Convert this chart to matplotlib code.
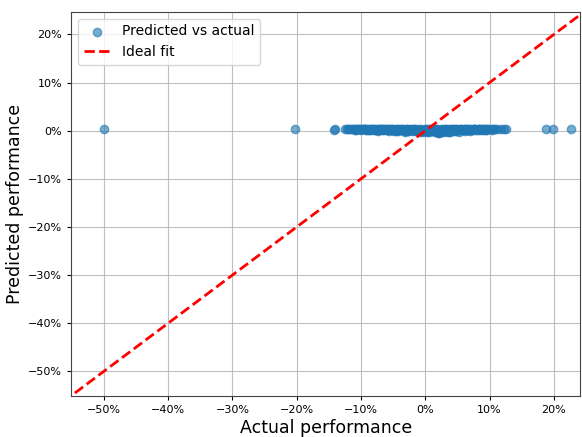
import matplotlib
matplotlib.use("Agg")
import matplotlib.pyplot as plt
from matplotlib.ticker import PercentFormatter

outlier_actual = [-0.500, -0.202, -0.142, -0.141, 0.187, 0.199, 0.227]
outlier_pred = [0.003, 0.003, 0.002, 0.004, 0.003, 0.003, 0.003]

cluster_actual = [
    -0.125, -0.122, -0.120, -0.117, -0.115, -0.112, -0.110, -0.108, -0.106, -0.104,
    -0.102, -0.100, -0.098, -0.096, -0.094, -0.092, -0.090, -0.088, -0.086, -0.084,
    -0.082, -0.080, -0.078, -0.076, -0.074, -0.072, -0.070, -0.068, -0.066, -0.064,
    -0.062, -0.060, -0.058, -0.056, -0.054, -0.052, -0.050, -0.048, -0.046, -0.044,
    -0.042, -0.040, -0.038, -0.036, -0.034, -0.032, -0.030, -0.028, -0.026, -0.024,
    -0.022, -0.020, -0.018, -0.016, -0.014, -0.012, -0.010, -0.008, -0.006, -0.004,
    -0.002, 0.000, 0.002, 0.004, 0.006, 0.008, 0.010, 0.012, 0.014, 0.016,
    0.018, 0.020, 0.022, 0.024, 0.026, 0.028, 0.030, 0.032, 0.034, 0.036,
    0.038, 0.040, 0.042, 0.044, 0.046, 0.048, 0.050, 0.052, 0.054, 0.056,
    0.058, 0.060, 0.062, 0.064, 0.066, 0.068, 0.070, 0.072, 0.074, 0.076,
    0.078, 0.080, 0.082, 0.084, 0.086, 0.088, 0.090, 0.092, 0.094, 0.096,
    0.098, 0.100, 0.103, 0.106, 0.109, 0.112, 0.118, 0.122, 0.125,
    -0.091, -0.073, -0.057, -0.043, -0.031, -0.019, -0.009, -0.003, 0.003, 0.009,
    0.015, 0.019, 0.021, 0.027, 0.033, 0.039, 0.045, 0.053, 0.061, 0.069,
    -0.081, -0.065, -0.049, -0.035, -0.025, -0.015, 0.005, 0.011, 0.025, 0.037,
    -0.107, -0.097, -0.087, -0.077, -0.067, -0.059, -0.051, -0.045, -0.039, -0.033,
    -0.027, -0.021, -0.013, -0.007, -0.001, 0.007, 0.013, 0.023, 0.029, 0.035,
    0.041, 0.047, 0.051, 0.057, 0.063, 0.071, 0.077, 0.083, 0.089, 0.095,
    -0.111, -0.101, -0.093, -0.083, -0.071, -0.061, -0.053, -0.041, -0.029, -0.017,
    0.001, 0.017, 0.031, 0.043, 0.055, 0.065, 0.075, 0.085, 0.093, 0.105,
]
cluster_pred = [
    0.003, 0.004, 0.003, 0.003, 0.004, 0.003, 0.002, 0.003, 0.004, 0.003,
    0.003, 0.002, 0.004, 0.003, 0.003, 0.001, 0.004, 0.003, 0.002, 0.003,
    0.004, 0.003, 0.001, 0.003, 0.004, 0.002, 0.003, 0.003, 0.001, 0.004,
    0.003, 0.002, 0.003, 0.004, 0.001, 0.003, 0.003, 0.002, 0.004, 0.003,
    0.001, 0.003, 0.002, 0.004, 0.003, 0.000, 0.003, 0.004, 0.002, 0.003,
    0.001, 0.003, 0.004, 0.002, 0.003, 0.000, 0.003, 0.001, 0.004, 0.002,
    -0.001, 0.003, 0.002, 0.004, 0.001, 0.003, 0.002, 0.004, 0.003, 0.001,
    0.003, -0.004, 0.002, 0.003, 0.001, 0.004, 0.002, 0.003, 0.001, 0.003,
    0.004, 0.002, 0.003, 0.004, 0.002, 0.003, 0.003, 0.002, 0.004, 0.003,
    0.002, 0.003, 0.004, 0.003, 0.002, 0.003, 0.004, 0.002, 0.003, 0.003,
    0.004, 0.002, 0.003, 0.003, 0.004, 0.002, 0.003, 0.003, 0.002, 0.004,
    0.003, 0.003, 0.002, 0.003, 0.004, 0.003, 0.003, 0.003, 0.003,
    0.001, 0.000, -0.001, 0.000, -0.002, -0.001, -0.002, -0.003, -0.002, -0.001,
    -0.002, -0.003, -0.004, -0.003, -0.002, -0.003, -0.001, -0.002, -0.001, 0.000,
    0.002, 0.001, 0.000, 0.001, -0.001, 0.000, -0.002, -0.001, -0.003, -0.002,
    0.002, 0.003, 0.001, 0.002, 0.003, 0.001, 0.002, 0.000, 0.001, 0.002,
    0.000, 0.001, -0.001, 0.000, 0.001, -0.001, 0.000, -0.002, -0.001, 0.000,
    0.001, 0.000, 0.001, 0.002, 0.001, 0.002, 0.001, 0.002, 0.001, 0.002,
    0.004, 0.004, 0.003, 0.004, 0.004, 0.003, 0.004, 0.004, 0.003, 0.004,
    0.004, 0.004, 0.003, 0.004, 0.003, 0.004, 0.003, 0.004, 0.003, 0.004,
]

actual = outlier_actual + cluster_actual
predicted = outlier_pred + cluster_pred

xlim = (-0.551, 0.241)
ylim = (-0.551, 0.247)

fig, ax = plt.subplots(figsize=(5.82, 4.37), dpi=100)
ax.scatter(actual, predicted, s=36, color="#1f77b4", alpha=0.6,
           label="Predicted vs actual", zorder=2)
ax.plot([-0.6, 0.3], [-0.6, 0.3], "r--", lw=2, label="Ideal fit", zorder=3)
ax.set_xlim(*xlim)
ax.set_ylim(*ylim)
ax.xaxis.set_major_formatter(PercentFormatter(1.0, decimals=0))
ax.yaxis.set_major_formatter(PercentFormatter(1.0, decimals=0))
ax.set_xticks([-0.5, -0.4, -0.3, -0.2, -0.1, 0, 0.1, 0.2])
ax.set_yticks([-0.5, -0.4, -0.3, -0.2, -0.1, 0, 0.1, 0.2])
ax.grid(True, color="#b0b0b0", lw=0.8, alpha=0.8)
ax.set_axisbelow(True)
for s in ax.spines.values():
    s.set_color("#444444")
ax.set_xlabel("Actual performance", fontsize=12.5, labelpad=3)
ax.set_ylabel("Predicted performance", fontsize=12.5, labelpad=3)
ax.tick_params(labelsize=8, length=3)
ax.legend(loc="upper left", fontsize=10)
fig.subplots_adjust(left=0.122, right=0.997, top=0.973, bottom=0.094)
fig.savefig("out.png", dpi=100)
